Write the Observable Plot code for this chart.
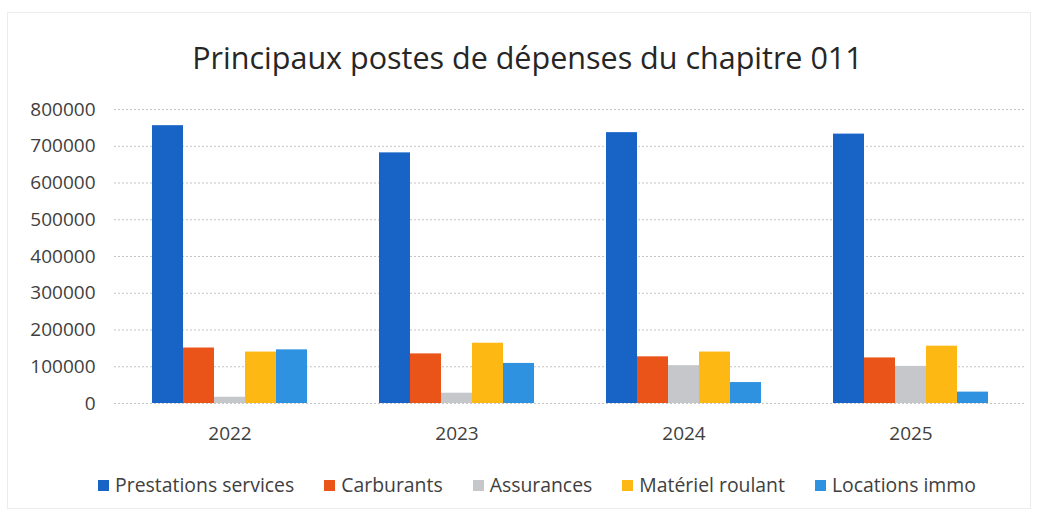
<!DOCTYPE html>
<html>
<head>
<meta charset="utf-8">
<script src="https://cdn.jsdelivr.net/npm/d3@7"></script>
<script src="https://cdn.jsdelivr.net/npm/@observablehq/plot@0.6"></script>
<style>
  html, body { margin: 0; padding: 0; background: #fff; }
  body { width: 1038px; height: 513px; overflow: hidden; font-family: "Open Sans", sans-serif; color: #404040; position: relative; }
  #frame { position: absolute; left: 7px; top: 12px; width: 1024px; height: 497px; border: 1px solid #ececec; box-sizing: border-box; }
  #title { position: absolute; left: 0; width: 1038px; top: 38px; text-align: center; font-size: 30.5px; line-height: 38px; color: #262626; padding-left: 17px; box-sizing: border-box; }
  #chart { position: absolute; left: 0; top: 90px; width: 1038px; height: 365px; }
  #chart svg { position: absolute; left: 0; top: 0; background: transparent; }
  #legend { position: absolute; left: 0; width: 1038px; top: 472px; display: flex; justify-content: center; gap: 30px; font-size: 19.4px; line-height: 26px; padding-left: 36px; box-sizing: border-box; }
  .item { display: flex; align-items: center; gap: 6px; }
  .sw { width: 11px; height: 11px; display: inline-block; }
</style>
</head>
<body>
<div id="frame"></div>
<div id="title">Principaux postes de dépenses du chapitre 011</div>
<div id="chart"></div>
<div id="legend"></div>
<script>
const years = ["2022", "2023", "2024", "2025"];
const series = ["Prestations services", "Carburants", "Assurances", "Matériel roulant", "Locations immo"];
const prestations = [756000, 682000, 737000, 733000];
const carburants = [151000, 135000, 127000, 124000];
const assurances = [17000, 28000, 103000, 101000];
const materiel = [140000, 164000, 140000, 156000];
const locations = [146000, 109000, 57000, 31000];
const yTicks = [0, 100000, 200000, 300000, 400000, 500000, 600000, 700000, 800000];
const colors = ["#1763c6", "#ea5419", "#c5c7cb", "#fdb813", "#2e92e0"];

const valuesBySeries = [prestations, carburants, assurances, materiel, locations];
const data = [];
years.forEach((yr, i) => {
  series.forEach((s, j) => data.push({year: yr, serie: s, value: valuesBySeries[j][i]}));
});

const common = {
  width: 1038, height: 365,
  marginLeft: 114, marginRight: 13, marginTop: 19, marginBottom: 52,
  style: {background: "transparent", fontFamily: "Open Sans, sans-serif", fontSize: "19px", color: "#404040", overflow: "visible"}
};

// Background: grid + y axis, spanning the full width
const back = Plot.plot({
  ...common,
  x: {axis: null, domain: [0, 1]},
  y: {domain: [0, 800000], ticks: yTicks, tickFormat: d => String(d), label: null, tickSize: 0, tickPadding: 19},
  marks: [
    Plot.ruleY(yTicks, {stroke: "#c4c4c4", strokeDasharray: "2,2", strokeWidth: 1}),
    Plot.axisY({ticks: yTicks, tickFormat: d => String(d), tickSize: 0, tickPadding: 19, label: null, fill: "#404040"})
  ]
});

// Foreground: grouped bars
const front = Plot.plot({
  ...common,
  fx: {domain: years, paddingInner: 0.3, paddingOuter: 0.15, label: null, tickSize: 0, tickPadding: 23},
  x: {domain: series, axis: null, padding: 0},
  y: {domain: [0, 800000], axis: null},
  color: {domain: series, range: colors},
  marks: [
    Plot.barY(data, {fx: "year", x: "serie", y: "value", fill: "serie", inset: 0}),
    Plot.axisFx({anchor: "bottom", tickSize: 0, tickPadding: 23, label: null, fill: "#404040"})
  ]
});

const chart = document.getElementById("chart");
chart.appendChild(back);
chart.appendChild(front);

const legend = document.getElementById("legend");
series.forEach((s, j) => {
  const item = document.createElement("div");
  item.className = "item";
  const sw = document.createElement("span");
  sw.className = "sw";
  sw.style.background = colors[j];
  const t = document.createElement("span");
  t.textContent = s;
  item.appendChild(sw);
  item.appendChild(t);
  legend.appendChild(item);
});
</script>
</body>
</html>
